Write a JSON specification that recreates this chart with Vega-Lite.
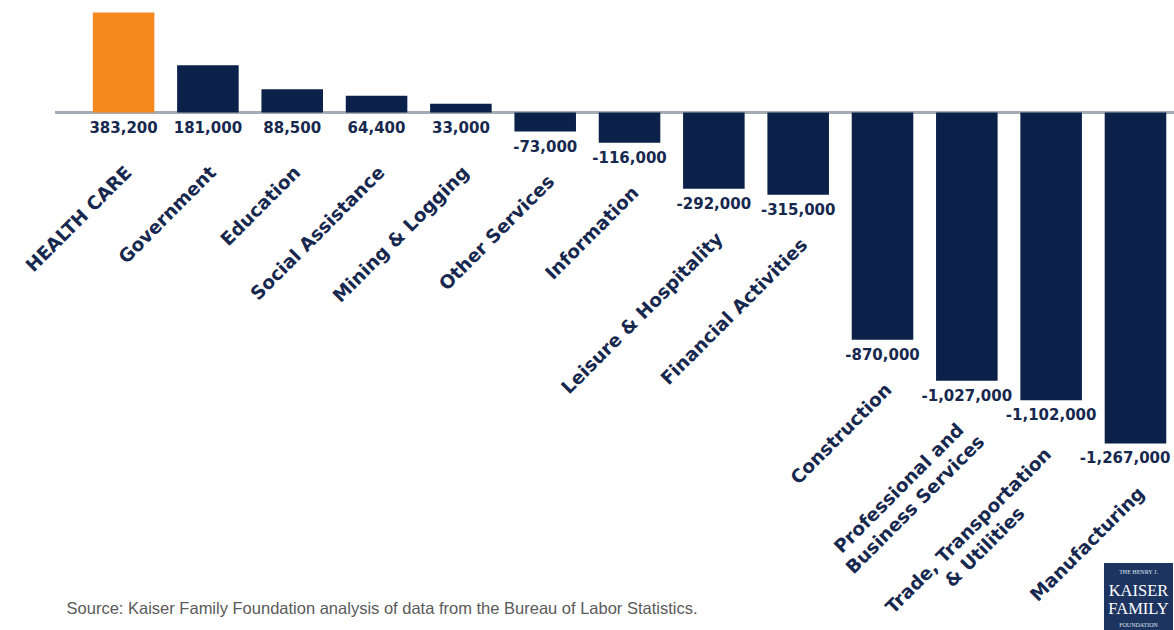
{
  "$schema": "https://vega.github.io/schema/vega-lite/v6.json",
  "width": 1119,
  "height": 444,
  "autosize": {"type": "none"},
  "padding": {"left": 55, "top": 8, "right": 0, "bottom": 178},
  "background": "white",
  "config": {
    "view": {"stroke": null},
    "locale": {"number": {"decimal": ".", "thousands": ",", "grouping": [3], "currency": ["$", ""], "minus": "-"}}
  },
  "data": {"values": [
    {"category": "HEALTH CARE", "label": "HEALTH CARE", "value": 383200},
    {"category": "Government", "label": "Government", "value": 181000},
    {"category": "Education", "label": "Education", "value": 88500},
    {"category": "Social Assistance", "label": "Social Assistance", "value": 64400},
    {"category": "Mining & Logging", "label": "Mining & Logging", "value": 33000},
    {"category": "Other Services", "label": "Other Services", "value": -73000},
    {"category": "Information", "label": "Information", "value": -116000},
    {"category": "Leisure & Hospitality", "label": "Leisure & Hospitality", "value": -292000},
    {"category": "Financial Activities", "label": "Financial Activities", "value": -315000},
    {"category": "Construction", "label": "Construction", "value": -870000},
    {"category": "Professional and Business Services", "label": "Professional and\nBusiness Services", "value": -1027000},
    {"category": "Trade, Transportation & Utilities", "label": "Trade, Transportation\n& Utilities", "value": -1102000},
    {"category": "Manufacturing", "label": "Manufacturing", "value": -1267000}
  ]},
  "encoding": {
    "x": {"field": "category", "type": "nominal", "sort": null, "axis": null,
          "scale": {"type": "band", "paddingInner": 0.27, "paddingOuter": 0.27, "align": 0.83}}
  },
  "layer": [
    {
      "mark": {"type": "rule", "color": "#a3abb5", "strokeWidth": 2},
      "encoding": {"x": null, "y": {"datum": 0, "type": "quantitative", "scale": {"domain": [-1300000, 400000], "nice": false, "zero": false}, "axis": null}}
    },
    {
      "mark": {"type": "bar"},
      "encoding": {
        "y": {"field": "value", "type": "quantitative"},
        "y2": {"datum": 0},
        "color": {"condition": {"test": "datum.category === 'HEALTH CARE'", "value": "#f5891f"}, "value": "#0b2149"}
      }
    },
    {
      "transform": [{"filter": "datum.value >= 0"}],
      "mark": {"type": "text", "font": "DejaVu Sans", "fontWeight": "bold", "fontSize": 15, "color": "#17284f", "baseline": "middle", "yOffset": 16},
      "encoding": {"y": {"datum": 0, "type": "quantitative"}, "text": {"field": "value", "type": "quantitative", "format": ","}}
    },
    {
      "transform": [{"filter": "datum.value < 0 && datum.category !== 'Manufacturing'"}],
      "mark": {"type": "text", "font": "DejaVu Sans", "fontWeight": "bold", "fontSize": 15, "color": "#17284f", "baseline": "middle", "yOffset": 15},
      "encoding": {"y": {"field": "value", "type": "quantitative"}, "text": {"field": "value", "type": "quantitative", "format": ","}}
    },
    {
      "transform": [{"filter": "datum.category === 'Manufacturing'"}],
      "mark": {"type": "text", "font": "DejaVu Sans", "fontWeight": "bold", "fontSize": 15, "color": "#17284f", "baseline": "middle", "align": "right", "xOffset": 35, "yOffset": 15},
      "encoding": {"y": {"field": "value", "type": "quantitative"}, "text": {"field": "value", "type": "quantitative", "format": ","}}
    },
    {
      "transform": [{"filter": "datum.value >= 0"}],
      "mark": {"type": "text", "font": "DejaVu Sans", "fontWeight": "bold", "fontSize": 18.5, "color": "#17284f", "baseline": "middle", "align": "right", "angle": 315, "xOffset": 5, "yOffset": 57},
      "encoding": {"y": {"datum": 0, "type": "quantitative"}, "text": {"field": "label"}}
    },
    {
      "transform": [{"filter": "datum.value < 0 && indexof(datum.label, '\\n') < 0"}],
      "mark": {"type": "text", "font": "DejaVu Sans", "fontWeight": "bold", "fontSize": 18.5, "color": "#17284f", "baseline": "middle", "align": "right", "angle": 315, "xOffset": 6, "yOffset": 47},
      "encoding": {"y": {"field": "value", "type": "quantitative"}, "text": {"field": "label"}}
    },
    {
      "transform": [{"filter": "datum.category === 'Professional and Business Services'"}],
      "mark": {"type": "text", "font": "DejaVu Sans", "fontWeight": "bold", "fontSize": 18.5, "color": "#17284f", "baseline": "middle", "align": "center", "angle": 315, "xOffset": -2, "yOffset": 42, "dx": -93, "lineBreak": "\n", "lineHeight": 23},
      "encoding": {"y": {"field": "value", "type": "quantitative"}, "text": {"field": "label"}}
    },
    {
      "transform": [{"filter": "datum.category === 'Trade, Transportation & Utilities'"}],
      "mark": {"type": "text", "font": "DejaVu Sans", "fontWeight": "bold", "fontSize": 18.5, "color": "#17284f", "baseline": "middle", "align": "center", "angle": 315, "xOffset": -2, "yOffset": 50, "dx": -114, "lineBreak": "\n", "lineHeight": 23},
      "encoding": {"y": {"field": "value", "type": "quantitative"}, "text": {"field": "label"}}
    },
    {
      "data": {"values": [{}]},
      "mark": {"type": "text", "font": "Liberation Sans", "fontSize": 16.5, "color": "#5a5a5a", "baseline": "alphabetic", "align": "left", "xOffset": -57,
               "text": "Source: Kaiser Family Foundation analysis of data from the Bureau of Labor Statistics."},
      "encoding": {"x": {"datum": "HEALTH CARE"}, "y": {"datum": -1920000, "type": "quantitative"}}
    },
    {
      "data": {"values": [{}]},
      "mark": {"type": "bar", "width": 69, "xOffset": 3, "color": "#1d3461"},
      "encoding": {"x": {"datum": "Manufacturing"}, "y": {"datum": -1725000, "type": "quantitative"}, "y2": {"datum": -2000000}}
    },
    {
      "data": {"values": [{}]},
      "mark": {"type": "text", "font": "Liberation Serif", "fontSize": 6, "color": "#dfe4ee", "baseline": "middle", "xOffset": 3, "text": "THE HENRY J."},
      "encoding": {"x": {"datum": "Manufacturing"}, "y": {"datum": -1759000, "type": "quantitative"}}
    },
    {
      "data": {"values": [{}]},
      "mark": {"type": "text", "font": "Liberation Serif", "fontSize": 16.5, "color": "#ffffff", "baseline": "middle", "xOffset": 3, "text": "KAISER"},
      "encoding": {"x": {"datum": "Manufacturing"}, "y": {"datum": -1834000, "type": "quantitative"}}
    },
    {
      "data": {"values": [{}]},
      "mark": {"type": "text", "font": "Liberation Serif", "fontSize": 16.5, "color": "#ffffff", "baseline": "middle", "xOffset": 3, "text": "FAMILY"},
      "encoding": {"x": {"datum": "Manufacturing"}, "y": {"datum": -1903000, "type": "quantitative"}}
    },
    {
      "data": {"values": [{}]},
      "mark": {"type": "text", "font": "Liberation Serif", "fontSize": 6, "color": "#dfe4ee", "baseline": "middle", "xOffset": 3, "text": "FOUNDATION"},
      "encoding": {"x": {"datum": "Manufacturing"}, "y": {"datum": -1964000, "type": "quantitative"}}
    }
  ]
}
